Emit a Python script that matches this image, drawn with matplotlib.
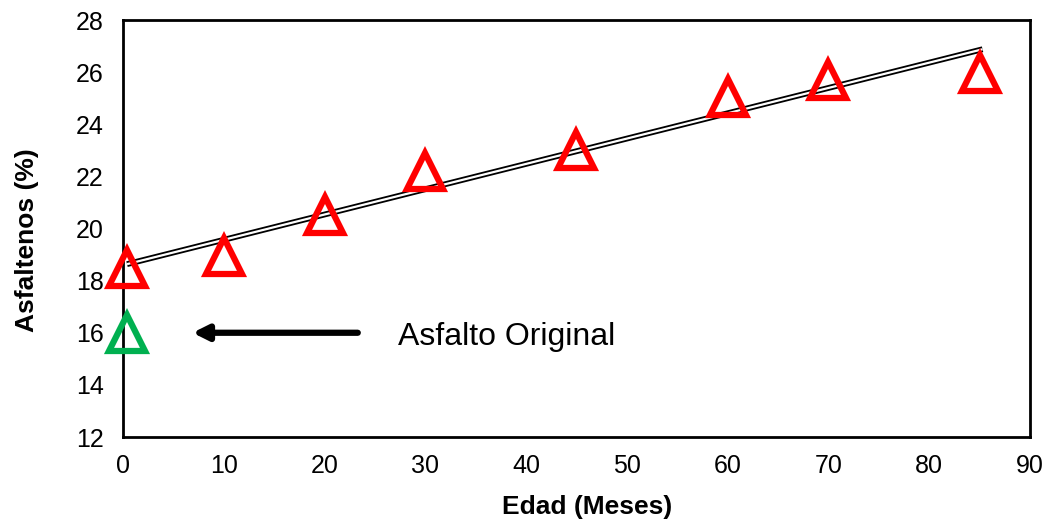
import numpy as np
import matplotlib
matplotlib.use("Agg")
import matplotlib.pyplot as plt

plt.rcParams['font.family'] = ['Liberation Sans', 'DejaVu Sans']

# aged samples (months, asphaltenes %)
edad = [0.4, 10, 20, 30, 45, 60, 70, 85]
asfaltenos = [18.5, 18.95, 20.5, 22.2, 23.0, 25.05, 25.7, 25.97]
# original asphalt
edad_orig = [0.4]
asf_orig = [16.0]

xticks = list(range(0, 91, 10))
yticks = list(range(12, 29, 2))

fig = plt.figure(figsize=(10.52, 5.21), dpi=100)
ax = fig.add_axes([0.1169, 0.1612, 0.979 - 0.1169, 0.9616 - 0.1612])

# linear trend, drawn as a double line
m, b = np.polyfit(edad, asfaltenos, 1)
xt = np.array([edad[0], 85.3])
ax.plot(xt, m * xt + b, color='black', lw=4.2, solid_capstyle='butt', zorder=3)
ax.plot(xt, m * xt + b, color='white', lw=1.6, solid_capstyle='butt', zorder=4)

ax.plot(edad, asfaltenos, linestyle='none', marker='^', ms=26, mfc='none',
        mec='#ff0000', mew=4.5, zorder=5, clip_on=False)
ax.plot(edad_orig, asf_orig, linestyle='none', marker='^', ms=26, mfc='none',
        mec='#00b050', mew=4.5, zorder=5, clip_on=False)

ax.annotate('', xy=(6.9, 16.0), xytext=(23.3, 16.0),
            arrowprops=dict(arrowstyle='-|>,head_length=0.9,head_width=0.45',
                            color='black', lw=4.5, shrinkA=0, shrinkB=0))
ax.text(27.3, 15.85, 'Asfalto Original', fontsize=23, va='center', ha='left')

ax.set_xlim(0, 90)
ax.set_ylim(12, 28)
ax.set_xticks(xticks)
ax.set_yticks(yticks)
ax.tick_params(length=0, labelsize=18)
ax.tick_params(axis='y', pad=14)
ax.tick_params(axis='x', pad=12)
for s in ax.spines.values():
    s.set_linewidth(2)
ax.set_xlabel('Edad (Meses)', fontsize=19, fontweight='bold', va='center')
ax.set_ylabel('Asfaltenos (%)', fontsize=19, fontweight='bold', va='center')
ax.xaxis.set_label_coords(0.512, -0.168)
ax.yaxis.set_label_coords(-0.106, 0.472)

fig.savefig('out.png', dpi=100)
